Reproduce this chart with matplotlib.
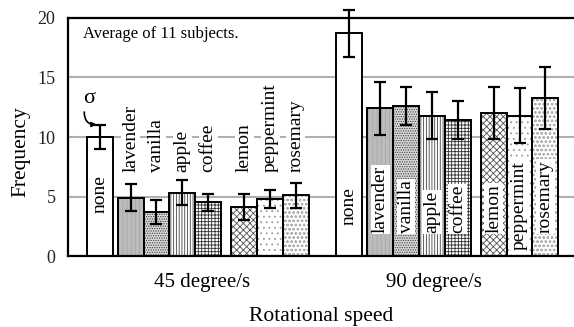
import matplotlib.pyplot as plt
import numpy as np

# data
conditions = ['none', 'lavender', 'vanilla', 'apple', 'coffee',
              'lemon', 'peppermint', 'rosemary']
speeds = ['45 degree/s', '90 degree/s']
mean_45 = [10.0, 4.9, 3.7, 5.3, 4.5, 4.1, 4.8, 5.1]
sd_45 = [1.0, 1.15, 1.05, 1.05, 0.75, 1.1, 0.75, 1.05]
mean_90 = [18.7, 12.4, 12.6, 11.8, 11.4, 12.0, 11.8, 13.3]
sd_90 = [2.0, 2.25, 1.6, 2.0, 1.6, 2.2, 2.3, 2.6]

# bar styles: face colour, hatch, hatch colour
faces = ['white', '#bcbcbc', '#d8d8d8', 'white', 'white',
         'white', 'white', 'white']
hatches = ['', '||||', '.......', '||||||', '+++++',
           'xxxxx', '...', 'oooo']
hatch_colors = ['black', '#a8a8a8', '#404040', '#404040', '#303030',
                '#505050', '#9a9a9a', '#b0b0b0']

# layout
offsets = np.array([0, 1.2, 2.2, 3.2, 4.2, 5.6, 6.6, 7.6])
group_start = [0.0, 9.67]
tick_pos = [3.95, 12.96]
label_y = [[3.6, 7.06, 7.06, 7.06, 7.06, 7.06, 7.06, 7.06],
           [2.6, 1.93, 1.93, 1.93, 1.93, 1.93, 0.5, 1.93]]

plt.rcParams['font.family'] = ['Liberation Serif', 'DejaVu Serif']
plt.rcParams['hatch.linewidth'] = 0.6

fig = plt.figure(figsize=(5.74, 3.27), dpi=100)
ax = fig.add_axes([0.1185, 0.217, 0.8815, 0.728])

for g, (means, sds) in enumerate([(mean_45, sd_45), (mean_90, sd_90)]):
    x = group_start[g] + offsets

    for i in range(len(conditions)):
        # hatch layer, then black outline on top
        ax.bar(x[i], means[i], width=1.0, color=faces[i], hatch=hatches[i],
               edgecolor=hatch_colors[i], linewidth=0, zorder=2)
        ax.bar(x[i], means[i], width=1.0, fill=False, edgecolor='black',
               linewidth=1.4, zorder=3)
        ax.text(x[i], label_y[g][i], conditions[i], rotation=90,
                ha='center', va='bottom', fontsize=14, zorder=5,
                bbox=dict(boxstyle='square,pad=0.05', fc='white', ec='none'))

    eb = ax.errorbar(x, means, yerr=sds, fmt='none', ecolor='black',
                     elinewidth=1.6, capsize=4, capthick=1.6, zorder=6)
    for art in eb.lines[1] + eb.lines[2]:
        art.set_clip_on(False)

# sigma marker with a curved arrow to the error bar
ax.text(-0.42, 13.2, 'σ', ha='center', va='center', fontsize=16)
ax.annotate('', xy=(-0.12, 11.05), xytext=(-0.6, 12.1),
            arrowprops=dict(arrowstyle='-|>', connectionstyle='arc3,rad=0.5',
                            color='black', lw=1.2, shrinkA=0, shrinkB=0,
                            mutation_scale=7))

ax.text(-0.65, 18.3, 'Average of 11 subjects.', fontsize=12,
        ha='left', va='baseline')

ax.set_xlim(-1.229, 18.38)
ax.set_ylim(0, 20)
ax.set_yticks([0, 5, 10, 15, 20])
ax.set_xticks(tick_pos)
ax.set_xticklabels(speeds)
ax.tick_params(axis='y', length=0, pad=9, labelsize=13, labelcolor='#222222')
ax.tick_params(axis='x', length=0, pad=12, labelsize=15)

ax.yaxis.grid(True, color='#b0b0b0', linewidth=1.5)
ax.set_axisbelow(True)

for side in ['left', 'bottom', 'top']:
    ax.spines[side].set_linewidth(1.6)
ax.spines['right'].set_visible(False)

ax.set_xlabel('Rotational speed', fontsize=15.5, labelpad=11)
ax.set_ylabel('Frequency', fontsize=15.5)
ax.yaxis.set_label_coords(-0.075, 0.44)

plt.savefig('out.png', dpi=100)
